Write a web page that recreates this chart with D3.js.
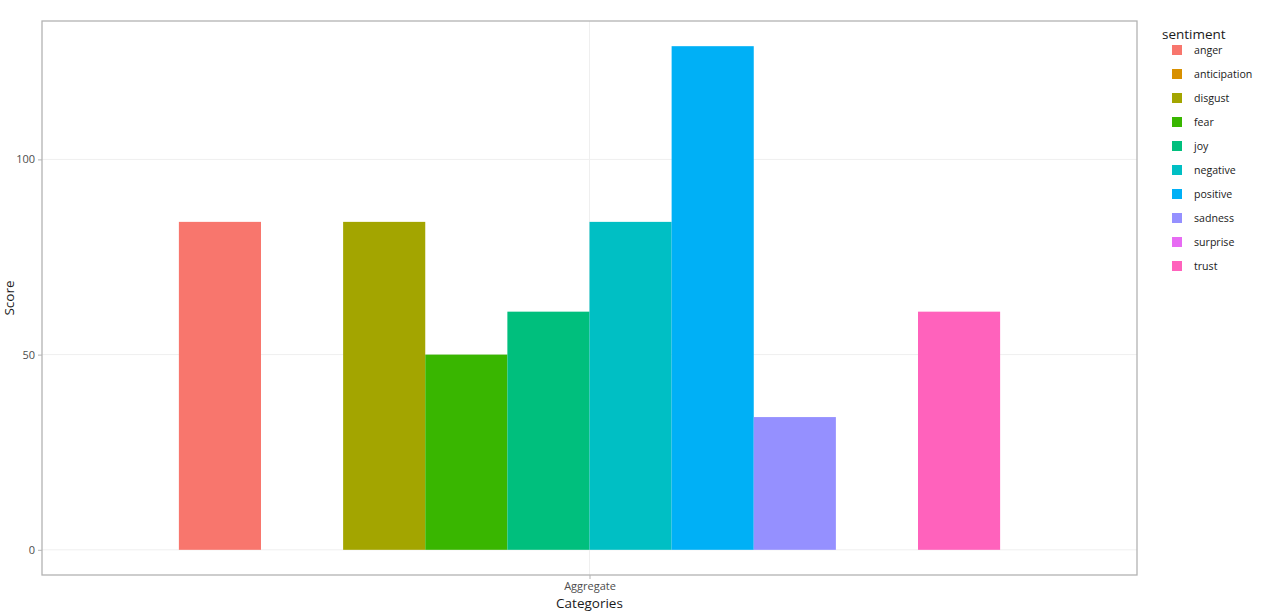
<!DOCTYPE html>
<html><head><meta charset="utf-8">
<script src="https://cdn.jsdelivr.net/npm/d3@7"></script>
<style>body{margin:0;background:#fff;}svg{display:block;font-family:"Open Sans",sans-serif;}</style>
</head><body>
<svg id="c" width="1262" height="611"></svg>
<script>
const categories = ["Aggregate"];
const sentiments = ["anger","anticipation","disgust","fear","joy","negative","positive","sadness","surprise","trust"];
const scores = [84, 0, 84, 50, 61, 84, 129, 34, 0, 61];
const colors = ["#F8766D","#D89000","#A3A500","#39B600","#00BF7D","#00BFC4","#00B0F6","#9590FF","#E76BF3","#FF62BC"];
const yTicks = [0, 50, 100];

const svg = d3.select("#c");
const L = 42, R = 1137, T = 21, B = 575;
const xCat = d3.scalePoint().domain(categories).range([L, R]).padding(0.5);
const xU = d3.scaleLinear().domain([0.4, 1.6]).range([L, R]);
const y = d3.scaleLinear().domain([-6.45, 135.45]).range([B, T]);
const barW = xU(0.9) - xU(0);
const xBar = d3.scaleBand().domain(sentiments).range([xCat("Aggregate") - barW/2, xCat("Aggregate") + barW/2]).padding(0);

// grid
const g = svg.append("g");
g.selectAll(".hg").data(yTicks).join("line")
  .attr("x1", L).attr("x2", R).attr("y1", d => y(d)).attr("y2", d => y(d))
  .attr("stroke", "#efefef").attr("stroke-width", 1);
g.selectAll(".vg").data(categories).join("line")
  .attr("x1", d => xCat(d)).attr("x2", d => xCat(d)).attr("y1", T).attr("y2", B)
  .attr("stroke", "#efefef").attr("stroke-width", 1);

// bars
svg.append("g").selectAll("rect").data(sentiments.map((s,i)=>({s, v:scores[i], c:colors[i]})).filter(d=>d.v>0))
  .join("rect")
  .attr("x", d => xBar(d.s)).attr("width", xBar.bandwidth())
  .attr("y", d => y(d.v)).attr("height", d => y(0) - y(d.v))
  .attr("fill", d => d.c);

// panel border
svg.append("rect").attr("x", L).attr("y", T).attr("width", R-L).attr("height", B-T)
  .attr("fill", "none").attr("stroke", "#b3b3b3").attr("stroke-width", 1.3);

// axes
const yAxis = svg.append("g").attr("transform", `translate(${L},0)`)
  .call(d3.axisLeft(y).tickValues(yTicks).tickSize(4).tickPadding(3));
yAxis.select(".domain").remove();
yAxis.selectAll("line").attr("stroke", "#b3b3b3");
yAxis.selectAll("text").attr("fill", "#4d4d4d").style("font-size", "11px").style("font-family", "Open Sans");

const xAxis = svg.append("g").attr("transform", `translate(0,${B})`)
  .call(d3.axisBottom(xCat).tickSize(4).tickPadding(3));
xAxis.select(".domain").remove();
xAxis.selectAll("line").attr("stroke", "#b3b3b3");
xAxis.selectAll("text").attr("fill", "#4d4d4d").style("font-size", "11px").style("font-family", "Open Sans");

svg.append("text").attr("x", xCat("Aggregate")).attr("y", 608).attr("text-anchor", "middle")
  .attr("fill", "#1a1a1a").style("font-size", "13.5px").text("Categories");
svg.append("text").attr("transform", `translate(14,${(T+B)/2}) rotate(-90)`).attr("text-anchor", "middle")
  .attr("fill", "#1a1a1a").style("font-size", "13.5px").text("Score");

// legend
const leg = svg.append("g");
leg.append("text").attr("x", 1162).attr("y", 39).attr("fill", "#1a1a1a").style("font-size", "13.5px").text("sentiment");
const items = leg.selectAll(".li").data(sentiments).join("g").attr("transform", (d,i)=>`translate(0,${50 + i*24})`);
items.append("rect").attr("x", 1172).attr("y", -5).attr("width", 10).attr("height", 10).attr("fill", (d,i)=>colors[i]);
items.append("text").attr("x", 1194).attr("y", 4).attr("fill", "#1a1a1a").style("font-size", "10.6px").text(d=>d);
</script>
</body></html>
